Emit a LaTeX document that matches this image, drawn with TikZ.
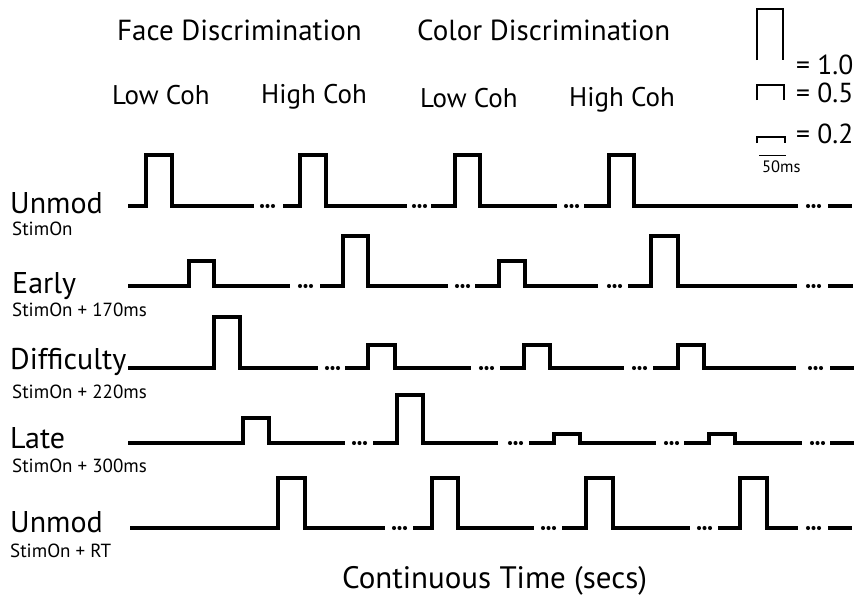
\documentclass[tikz,border=0pt]{standalone}
\usepackage{fontspec}
\setmainfont{PT Sans}
% three dots marking a gap in a trace
\newcommand{\gapdots}[2]{%
  \foreach \k in {0,1,2}{\fill ({#1+5.5*\k+2},#2) circle[radius=2.05];}}
\begin{document}
\begin{tikzpicture}[x=1pt,y=-1pt,
  trace/.style={line width=3.3pt, line cap=butt, line join=miter},
  keypulse/.style={line width=2.8pt, line cap=butt, line join=miter},
  rowname/.style={anchor=base west, inner sep=0pt, font=\fontsize{30}{36}\selectfont},
  rowsub/.style={anchor=base west, inner sep=0pt, font=\fontsize{19}{23}\selectfont},
  head/.style={anchor=base west, inner sep=0pt, font=\fontsize{29}{34}\selectfont},
  cohtxt/.style={anchor=base west, inner sep=0pt, font=\fontsize{27}{32}\selectfont},
  keytxt/.style={anchor=base west, inner sep=0pt, font=\fontsize{27.5}{33}\selectfont},
  scaletxt/.style={anchor=base west, inner sep=0pt, font=\fontsize{16.5}{20}\selectfont},
  axistxt/.style={anchor=base west, inner sep=0pt, font=\fontsize{31}{37}\selectfont}]
\useasboundingbox[fill=white] (0,0) rectangle (856,598);

% column headings
\node[head] (face) at (117,40) {Face Discrimination};
\node[head] (color) at (417,40) {Color Discrimination};
\node[cohtxt] (fl) at (112,104) {Low Coh};
\node[cohtxt] (fh) at (261,103) {High Coh};
\node[cohtxt] (cl) at (420,107) {Low Coh};
\node[cohtxt] (ch) at (569,106) {High Coh};

% amplitude key
\draw[keypulse] (757,60) |- (783,9) -- (783,60);
\draw[keypulse] (757,100) |- (784,85) -- (784,100);
\draw[keypulse] (757,143) |- (785,137) -- (785,143);
\draw[line width=0.9pt] (759,155) -- (786,155);
\node[keytxt] (k10) at (796,74) {= 1.0};
\node[keytxt] (k05) at (796,102) {= 0.5};
\node[keytxt] (k02) at (796,143) {= 0.2};
\node[scaletxt] (ms) at (762,172) {50ms};

% row labels
\node[rowname] (r1) at (10,213) {Unmod};
\node[rowsub]  (s1) at (12,235) {StimOn};
\node[rowname] (r2) at (12,293) {Early};
\node[rowsub]  (s2) at (12,316) {StimOn + 170ms};
\node[rowname] (r3) at (10,369) {Difficulty};
\node[rowsub]  (s3) at (12,398) {StimOn + 220ms};
\node[rowname] (r4) at (10,448) {Late};
\node[rowsub]  (s4) at (12,472) {StimOn + 300ms};
\node[rowname] (r5) at (10,532) {Unmod};
\node[rowsub]  (s5) at (10,557) {StimOn + RT};

% row 1: unmodulated at stimulus onset
\draw[trace] (128,206) -| (146,155) -| (172,206) -- (254,206);
\gapdots{260}{206}
\draw[trace] (283,206) -| (300,155) -| (326,206) -- (407,206);
\gapdots{412}{206}
\draw[trace] (431,206) -| (455,155) -| (480,206) -- (557,206);
\gapdots{564}{206}
\draw[trace] (584,206) -| (609,155) -| (634,206) -- (798,206);
\gapdots{806}{206}
\draw[trace] (828,206) -- (852,206);

% row 2: early
\draw[trace] (128,286) -| (189,261) -| (214,286) -- (290,286);
\gapdots{298}{286}
\draw[trace] (320,286) -| (343,236) -| (368,286) -- (448,286);
\gapdots{455}{286}
\draw[trace] (475,286) -| (499,261) -| (525,286) -- (598,286);
\gapdots{607}{286}
\draw[trace] (628,286) -| (651,236) -| (678,286) -- (797,286);
\gapdots{806}{286}
\draw[trace] (828,286) -- (853,286);

% row 3: difficulty
\draw[trace] (128,368) -| (214,317) -| (240,368) -- (318,368);
\gapdots{325}{368}
\draw[trace] (345,368) -| (368,345) -| (395,368) -- (471,368);
\gapdots{479}{368}
\draw[trace] (500,368) -| (524,345) -| (550,368) -- (624,368);
\gapdots{632}{368}
\draw[trace] (653,368) -| (678,345) -| (704,368) -- (796,368);
\gapdots{808}{368}
\draw[trace] (830,368) -- (854,368);

% row 4: late
\draw[trace] (128,443) -| (243,418) -| (269,443) -- (345,443);
\gapdots{352}{443}
\draw[trace] (373,443) -| (397,395) -| (423,443) -- (498,443);
\gapdots{508}{443}
\draw[trace] (529,443) -| (554,434) -| (580,443) -- (656,443);
\gapdots{664}{443}
\draw[trace] (684,443) -| (709,434) -| (735,443) -- (802,443);
\gapdots{810}{443}
\draw[trace] (830,443) -- (854,443);

% row 5: unmodulated at response
\draw[trace] (130,528) -| (278,478) -| (305,528) -- (385,528);
\gapdots{392}{528}
\draw[trace] (413,528) -| (432,478) -| (458,528) -- (534,528);
\gapdots{541}{528}
\draw[trace] (562,528) -| (586,478) -| (613,528) -- (690,528);
\gapdots{697}{528}
\draw[trace] (718,528) -| (740,478) -| (767,528) -- (798,528);
\gapdots{806}{528}
\draw[trace] (828,528) -- (852,528);

% time axis caption
\node[axistxt] (axis) at (342,588) {Continuous Time (secs)};
\end{tikzpicture}
\end{document}
